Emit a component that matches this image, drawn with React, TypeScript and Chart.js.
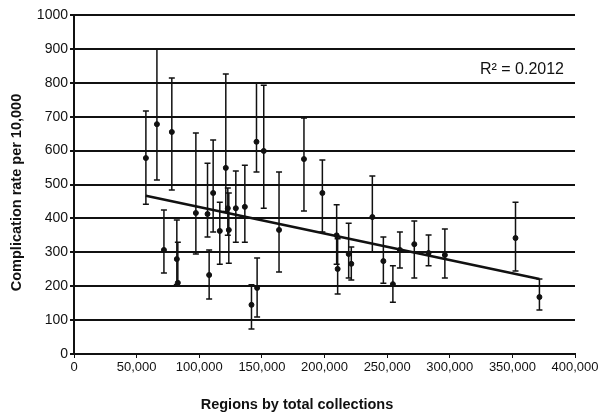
import React, { useEffect, useRef } from "react";
import { Chart, registerables } from "chart.js";

Chart.register(...registerables);

// Regions: total collections (x) and complication rate per 10,000 (y) with error-bar limits
const collections = [
  57400, 66200, 71800, 78100, 82100, 82900, 97300, 106600, 107900, 111100,
  116400, 121200, 122800, 123600, 129200, 136400, 141700, 145700, 146200, 151500,
  163700, 183600, 198300, 209700, 210500, 219300, 221400, 238200, 247000, 254600,
  260200, 271700, 283100, 296100, 352500, 371600,
];
const rates = [
  578, 678, 307, 655, 280, 210, 416, 413, 233, 475,
  363, 549, 430, 366, 430, 434, 145, 626, 195, 599,
  366, 575, 475, 350, 251, 295, 266, 404, 274, 206,
  307, 324, 298, 292, 342, 168,
];
const upperLimits = [
  717, 900, 425, 814, 395, 330, 652, 563, 307, 631,
  448, 826, 490, 475, 540, 557, 204, 800, 283, 793,
  537, 696, 572, 440, 340, 386, 316, 525, 345, 260,
  360, 392, 351, 369, 448, 221,
];
const lowerLimits = [
  442, 513, 239, 484, 205, 200, 295, 345, 162, 360,
  265, 420, 350, 268, 330, 330, 74, 537, 109, 430,
  242, 422, 360, 265, 177, 224, 218, 301, 209, 153,
  254, 224, 260, 224, 245, 130,
];
// Linear trend line end points
const trendX = [57400, 371600];
const trendY = [467, 221];
const rSquaredLabel = "R\u00B2 = 0.2012";
const xTitle = "Regions by total collections";
const yTitle = "Complication rate per 10,000";

const FONT = "'Liberation Sans', Arial, sans-serif";

const errorBarPlugin = {
  id: "errorBars",
  beforeDatasetsDraw(chart: any) {
    const { ctx, scales } = chart;
    const xs = scales.x;
    const ys = scales.y;
    ctx.save();
    ctx.strokeStyle = "#111";
    ctx.lineWidth = 1.5;
    for (let i = 0; i < collections.length; i++) {
      const px = xs.getPixelForValue(collections[i]);
      const pTop = ys.getPixelForValue(upperLimits[i]);
      const pBot = ys.getPixelForValue(lowerLimits[i]);
      ctx.beginPath();
      ctx.moveTo(px, pTop);
      ctx.lineTo(px, pBot);
      ctx.moveTo(px - 3, pTop);
      ctx.lineTo(px + 3, pTop);
      ctx.moveTo(px - 3, pBot);
      ctx.lineTo(px + 3, pBot);
      ctx.stroke();
    }
    ctx.restore();
  },
  afterDraw(chart: any) {
    const { ctx, chartArea, width, height } = chart;
    ctx.save();
    ctx.fillStyle = "#111";
    ctx.font = `16px ${FONT}`;
    ctx.textAlign = "right";
    ctx.textBaseline = "middle";
    ctx.fillText(rSquaredLabel, chartArea.right - 11, chartArea.top + 55);

    ctx.font = `bold 14.5px ${FONT}`;
    ctx.textAlign = "center";
    ctx.fillText(xTitle, width / 2 - 5, height - 11);

    ctx.translate(17, chartArea.top + (chartArea.bottom - chartArea.top) / 2 + 8);
    ctx.rotate(-Math.PI / 2);
    ctx.fillText(yTitle, 0, 0);
    ctx.restore();
  },
};

export default function App() {
  const canvasRef = useRef<HTMLCanvasElement | null>(null);

  useEffect(() => {
    if (!canvasRef.current) return;
    const points = collections.map((x, i) => ({ x, y: rates[i] }));
    const trend = trendX.map((x, i) => ({ x, y: trendY[i] }));
    const chart = new Chart(canvasRef.current, {
      type: "scatter",
      data: {
        datasets: [
          {
            type: "line",
            data: trend,
            borderColor: "#111",
            borderWidth: 2.5,
            pointRadius: 0,
            fill: false,
            order: 0,
          } as any,
          {
            data: points,
            backgroundColor: "#111",
            borderColor: "#111",
            pointRadius: 2.5,
            pointHoverRadius: 2.5,
            order: 1,
          },
        ],
      },
      plugins: [errorBarPlugin],
      options: {
        animation: false,
        responsive: false,
        events: [],
        layout: { padding: { top: 15, right: 29, bottom: 0, left: 0 } },
        plugins: {
          legend: { display: false },
          tooltip: { enabled: false },
        },
        scales: {
          x: {
            type: "linear",
            min: 0,
            max: 400000,
            afterFit: (scale: any) => {
              scale.height = 62;
            },
            ticks: {
              stepSize: 50000,
              color: "#111",
              padding: 2,
              maxRotation: 0,
              font: { family: FONT, size: 13 },
              callback: (v: any) => Number(v).toLocaleString("en-US"),
            },
            grid: {
              drawOnChartArea: false,
              drawTicks: true,
              tickLength: 4,
              color: "#111",
              lineWidth: 1,
            },
            border: { color: "#111", width: 2 },
          },
          y: {
            min: 0,
            max: 1000,
            afterFit: (scale: any) => {
              scale.width = 74;
            },
            ticks: {
              stepSize: 100,
              color: "#111",
              padding: 2,
              font: { family: FONT, size: 14 },
              callback: (v: any) => String(v),
            },
            grid: {
              color: "#111",
              lineWidth: 2,
              tickLength: 4,
            },
            border: { color: "#111", width: 2 },
          },
        },
      },
    });
    return () => chart.destroy();
  }, []);

  return (
    <div style={{ position: "fixed", left: 0, top: 0, width: 604, height: 416, background: "#fff" }}>
      <canvas ref={canvasRef} width={604} height={416} style={{ width: 604, height: 416 }} />
    </div>
  );
}
